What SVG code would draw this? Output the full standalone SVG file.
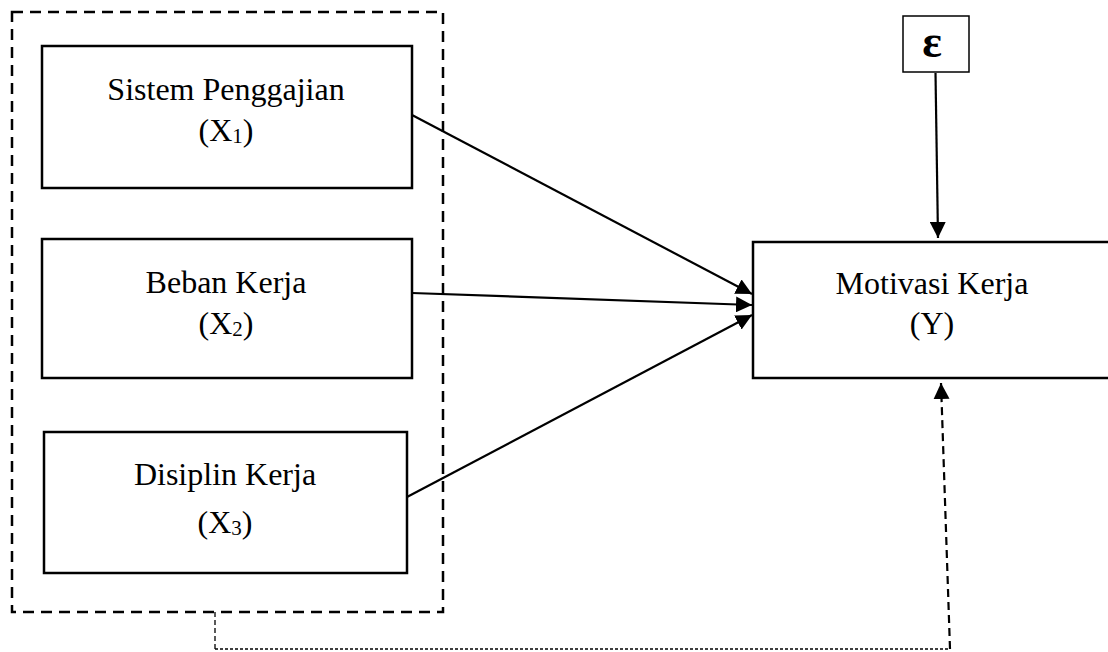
<svg xmlns="http://www.w3.org/2000/svg" width="1108" height="652" viewBox="0 0 1108 652">
<style>
.box{fill:#fff;stroke:#000;stroke-width:2.5}
.t{font-family:"Liberation Serif","Times New Roman",serif;font-size:32px;fill:#000;text-anchor:middle}
.sub{font-size:21px}
.eps{font-size:46px;font-weight:bold}
.arr{stroke:#000;stroke-width:2.2;fill:none}
</style>
<defs>
<marker id="ah" viewBox="0 0 16 16" refX="16" refY="8" markerWidth="16" markerHeight="16" markerUnits="userSpaceOnUse" orient="auto">
<path d="M0,0 L16,8 L0,16 z" fill="#000"/>
</marker>
</defs>
<rect id="group-x" x="12" y="12" width="431" height="600" fill="none" stroke="#000" stroke-width="2.5" stroke-dasharray="11,7"/>
<g id="x1">
<rect class="box" x="42" y="46" width="370" height="142"/>
<text class="t" x="226" y="100">Sistem Penggajian</text>
<text class="t" x="226" y="141">(X<tspan class="sub" dy="2">1</tspan><tspan dy="-2">)</tspan></text>
</g>
<g id="x2">
<rect class="box" x="42" y="239" width="370" height="139"/>
<text class="t" x="226" y="293">Beban Kerja</text>
<text class="t" x="226" y="334">(X<tspan class="sub" dy="2">2</tspan><tspan dy="-2">)</tspan></text>
</g>
<g id="x3">
<rect class="box" x="44" y="432" width="363" height="141"/>
<text class="t" x="225" y="485">Disiplin Kerja</text>
<text class="t" x="225" y="533">(X<tspan class="sub" dy="2">3</tspan><tspan dy="-2">)</tspan></text>
</g>
<g id="y">
<rect class="box" x="753" y="242" width="360" height="136"/>
<text class="t" x="932" y="294">Motivasi Kerja</text>
<text class="t" x="932" y="334">(Y)</text>
</g>
<g id="epsilon">
<rect x="903" y="16" width="66" height="56" fill="#fff" stroke="#000" stroke-width="1.5"/>
<text class="t eps" x="932" y="57">ε</text>
</g>
<g id="connectors">
<line class="arr" x1="412" y1="115" x2="752" y2="294" marker-end="url(#ah)"/>
<line class="arr" x1="412" y1="293" x2="752" y2="305" marker-end="url(#ah)"/>
<line class="arr" x1="407" y1="497" x2="752" y2="315" marker-end="url(#ah)"/>
<line class="arr" x1="935.5" y1="73" x2="938" y2="238" stroke-width="1.8" marker-end="url(#ah)"/>
<line x1="215" y1="612" x2="215" y2="650" stroke="#000" stroke-width="1.3" stroke-dasharray="5,3"/>
<line x1="215" y1="649" x2="950" y2="649" stroke="#000" stroke-width="1.5" stroke-dasharray="3,2"/>
<line class="arr" x1="950" y1="649" x2="941" y2="383" stroke-width="2" stroke-dasharray="8,5" marker-end="url(#ah)"/>
</g>
</svg>
